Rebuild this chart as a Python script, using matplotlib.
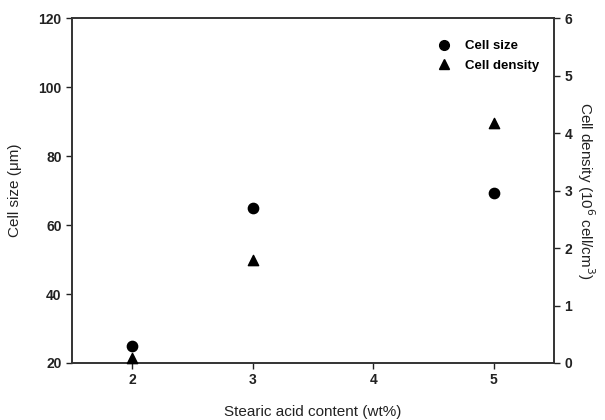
import matplotlib
matplotlib.use("Agg")
import matplotlib.pyplot as plt
from matplotlib.lines import Line2D

plt.rcParams['font.family'] = ['Liberation Sans', 'DejaVu Sans']

# data
acid_content = [2, 3, 5]
cell_size = [24.8, 65.0, 69.3]
cell_density = [0.08, 1.8, 4.17]

fig = plt.figure(figsize=(6.05, 4.2), dpi=100)
ax = fig.add_axes([72 / 605, 1 - 363 / 420, (554 - 72) / 605, (363 - 18) / 420])
ax2 = ax.twinx()

ax.scatter(acid_content, cell_size, marker='o', s=55, color='black', zorder=3, clip_on=False)
ax2.scatter(acid_content, cell_density, marker='^', s=55, color='black', zorder=3, clip_on=False)

ax.set_xlim(1.5, 5.5)
ax.set_ylim(20, 120)
ax2.set_ylim(0, 6)
ax.set_xticks([2, 3, 4, 5])
ax.set_yticks([20, 40, 60, 80, 100, 120])
ax2.set_yticks([0, 1, 2, 3, 4, 5, 6])

for a in (ax, ax2):
    for sp in a.spines.values():
        sp.set_linewidth(1.2)
        sp.set_color('#333333')
    a.tick_params(direction='out', length=4, width=1, colors='#222222', labelsize=10)
    for lab in a.get_xticklabels() + a.get_yticklabels():
        lab.set_fontweight('bold')

ax.set_xlabel('Stearic acid content (wt%)', fontsize=11, color='#222222', labelpad=13)
ax.set_ylabel('Cell size (\u03bcm)', fontsize=11, color='#222222', labelpad=12)
ax2.set_ylabel('Cell density (10$^6$ cell/cm$^3$)', fontsize=11, color='#222222',
               rotation=270, labelpad=18)

handles = [Line2D([], [], marker='o', linestyle='', color='black', markersize=7),
           Line2D([], [], marker='^', linestyle='', color='black', markersize=7)]
leg = ax.legend(handles, ['Cell size', 'Cell density'], loc='upper right', frameon=False,
                prop={'weight': 'bold', 'size': 9.5}, handletextpad=0.6, labelspacing=0.55,
                bbox_to_anchor=(0.995, 0.97))

fig.savefig('out.png', dpi=100)
